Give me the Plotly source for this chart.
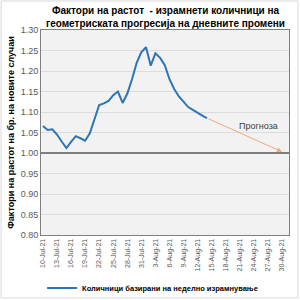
import plotly.graph_objects as go
import pandas as pd

dates = pd.date_range("2021-07-10", "2021-08-14", freq="D")
values = [1.066, 1.056, 1.058, 1.045, 1.028, 1.012, 1.027, 1.041, 1.036, 1.030,
          1.048, 1.083, 1.117, 1.121, 1.127, 1.141, 1.150, 1.122, 1.145, 1.180,
          1.220, 1.246, 1.258, 1.213, 1.243, 1.232, 1.214, 1.180, 1.156, 1.138,
          1.125, 1.112, 1.105, 1.097, 1.091, 1.085]
forecast_dates = ["2021-08-14", "2021-08-30"]
forecast_values = [1.085, 1.003]
tick_dates = pd.date_range("2021-07-10", "2021-08-30", freq="3D")
tick_labels = [d.strftime("%-d-%b-%y") for d in tick_dates]
y_ticks = [0.80, 0.85, 0.90, 0.95, 1.00, 1.05, 1.10, 1.15, 1.20, 1.25, 1.30]
baseline = 1.00

title = "Фактори на растот  - израмнети количници на<br>геометриската прогресија на дневните промени"
ytitle = "Фактори на растот на бр. на новите случаи"
series_name = "Количници базирани на неделно израмнување"
forecast_label = "Прогноза"

FONT = "Liberation Sans, Arial, sans-serif"

fig = go.Figure()
fig.add_trace(go.Scatter(x=dates, y=values, mode="lines", name=series_name,
                         line=dict(color="#2e75b6", width=2)))

fig.add_hline(y=baseline, line=dict(color="#7f7f7f", width=2))

fig.add_annotation(x=forecast_dates[1], y=forecast_values[1],
                   ax=forecast_dates[0], ay=forecast_values[0],
                   xref="x", yref="y", axref="x", ayref="y",
                   showarrow=True, arrowhead=2, arrowsize=1, arrowwidth=1,
                   arrowcolor="#f0a878", text="")
fig.add_annotation(x="2021-08-25", y=1.066, xref="x", yref="y", text=forecast_label,
                   showarrow=False, font=dict(family=FONT, size=9, color="#404040"))

fig.add_annotation(x=0.5, y=1.132, xref="paper", yref="paper", xanchor="center",
                   yanchor="top", showarrow=False, text=title, align="center",
                   font=dict(family=FONT, size=10, color="#000000", weight="bold"))

fig.add_shape(type="rect", xref="paper", yref="paper",
              x0=-0.161, x1=1.036, y0=-0.307, y1=1.1415,
              line=dict(color="#d9d9d9", width=1), layer="below")

fig.update_layout(
    width=300, height=300,
    margin=dict(l=41, r=11, t=30, b=65, autoexpand=False),
    paper_bgcolor="white", plot_bgcolor="#f2f2f2",
    showlegend=True,
    legend=dict(orientation="h", x=0.45, xanchor="center", y=-0.259, yanchor="middle",
                font=dict(family=FONT, size=7.5, color="#000000", weight="bold"),
                bgcolor="rgba(0,0,0,0)", itemwidth=30, tracegroupgap=0),
    font=dict(family=FONT),
)
fig.update_xaxes(range=["2021-07-09 14:00", "2021-08-31 12:00"],
                 tickvals=tick_dates, ticktext=tick_labels, tickangle=-90,
                 tickfont=dict(family=FONT, size=7, color="#595959"),
                 showgrid=False, showline=True, mirror=True, linecolor="#7f7f7f",
                 linewidth=1, ticks="", zeroline=False, automargin=False)
fig.update_yaxes(range=[0.80, 1.30], tickvals=y_ticks, tickformat=".2f",
                 tickfont=dict(family=FONT, size=9, color="#595959"),
                 showgrid=True, gridcolor="#dcdcdc", gridwidth=1,
                 showline=True, mirror=True, linecolor="#7f7f7f", linewidth=1,
                 ticks="", zeroline=False, automargin=False,
                 title=dict(text=ytitle, standoff=4,
                            font=dict(family=FONT, size=9, color="#000000", weight="bold")))

fig.write_html("out.html")
